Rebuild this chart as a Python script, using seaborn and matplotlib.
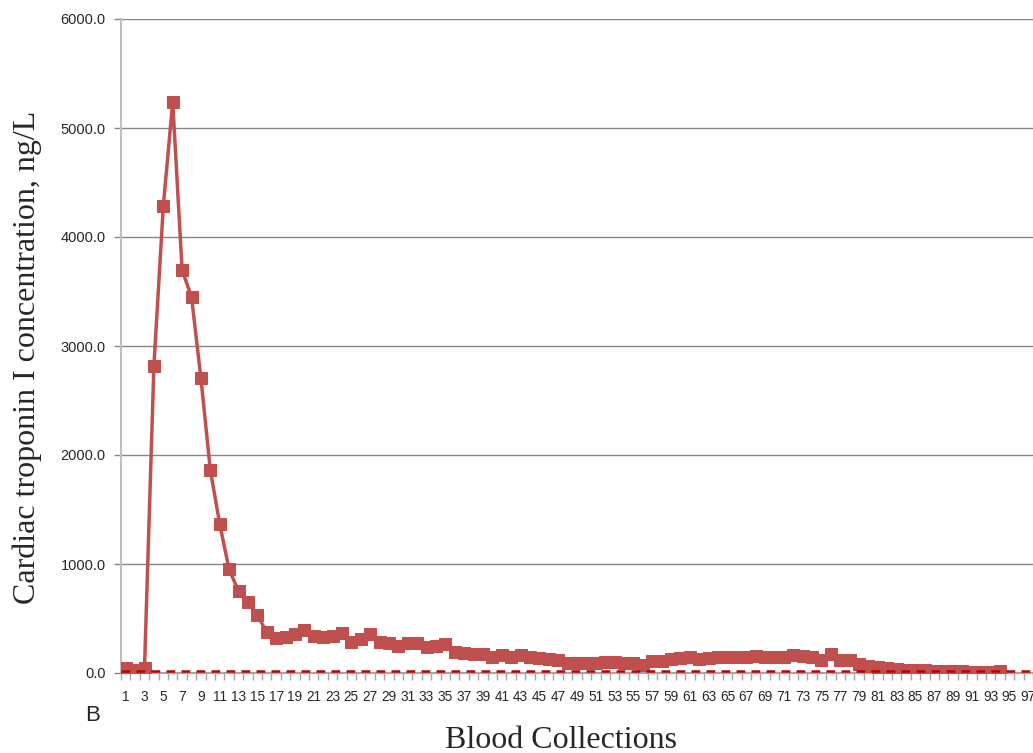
import numpy as np
import pandas as pd
import matplotlib
matplotlib.use("Agg")
import matplotlib.pyplot as plt
import seaborn as sns
from matplotlib.ticker import FixedLocator, FuncFormatter

# data
collections = list(range(1, 95))
troponin = [
    49, 28, 49, 2817, 4284, 5239, 3697, 3450, 2706, 1862,
    1367, 951, 752, 654, 532, 373, 324, 327, 355, 394,
    339, 327, 342, 364, 287, 312, 355, 287, 278, 248,
    272, 272, 241, 248, 263, 193, 187, 171, 177, 150,
    162, 150, 162, 144, 138, 125, 119, 89, 89, 89,
    95, 101, 101, 95, 95, 73, 110, 110, 128, 134,
    144, 128, 134, 150, 150, 150, 150, 159, 144, 150,
    144, 162, 156, 144, 119, 171, 119, 119, 82, 67,
    58, 45, 36, 29, 29, 26, 21, 21, 21, 15,
    12, 6, 6, 21,
]
reference_limit = 20
n_slots = 97
y_ticks = [0, 1000, 2000, 3000, 4000, 5000, 6000]

df = pd.DataFrame({"collection": collections, "ctni": troponin})

sns.set_theme(style="white")
plt.rcParams["font.family"] = ["Liberation Sans", "DejaVu Sans"]

fig = plt.figure(figsize=(10.33, 7.53), dpi=100)
ax = fig.add_axes([121 / 1033, 80 / 753, 912 / 1033, 654 / 753])

line_red = "#C0504D"
sns.lineplot(data=df, x="collection", y="ctni", ax=ax, color=line_red,
             linewidth=2.5, marker="s", markersize=8.5,
             markeredgecolor=line_red, markerfacecolor=line_red, zorder=3)
ax.axhline(reference_limit, color="#C00000", linestyle=(0, (3.5, 2.5)),
           linewidth=1.8, zorder=4)

ax.set_xlim(0.5, n_slots + 0.5)
ax.set_ylim(0, 6000)

# y axis
ax.yaxis.set_major_locator(FixedLocator(y_ticks))
ax.yaxis.set_major_formatter(FuncFormatter(lambda v, p: f"{v:.1f}"))
ax.grid(axis="y", color="#868686", linewidth=1.0)
ax.grid(axis="x", visible=False)
ax.tick_params(axis="y", which="major", length=5, width=1, color="#868686",
               labelsize=10.5, pad=6, left=True)

# x axis: labels every second slot, tick marks between slots
ax.xaxis.set_major_locator(FixedLocator(list(range(1, n_slots + 1, 2))))
ax.xaxis.set_minor_locator(FixedLocator(np.arange(0.5, n_slots + 1, 1.0)))
ax.tick_params(axis="x", which="major", length=0, labelsize=9.8, pad=12)
ax.tick_params(axis="x", which="minor", length=5, width=1, color="#A6A6A6",
               bottom=True)

for side in ["top", "right"]:
    ax.spines[side].set_visible(False)
ax.spines["left"].set_color("#BFBFBF")
ax.spines["left"].set_linewidth(1.5)
ax.spines["bottom"].set_color("#A6A6A6")
ax.spines["bottom"].set_linewidth(1.5)

ax.set_xlabel("")
ax.set_ylabel("")
fig.text(0.026, 0.526, "Cardiac troponin I concentration, ng/L",
         rotation=90, ha="center", va="center", fontsize=23,
         family="Liberation Serif")
fig.text(0.543, 0.017, "Blood Collections", ha="center", va="center",
         fontsize=23, family="Liberation Serif")
fig.text(0.090, 0.050, "B", ha="center", va="center", fontsize=16)

fig.savefig("out.png", dpi=100)
